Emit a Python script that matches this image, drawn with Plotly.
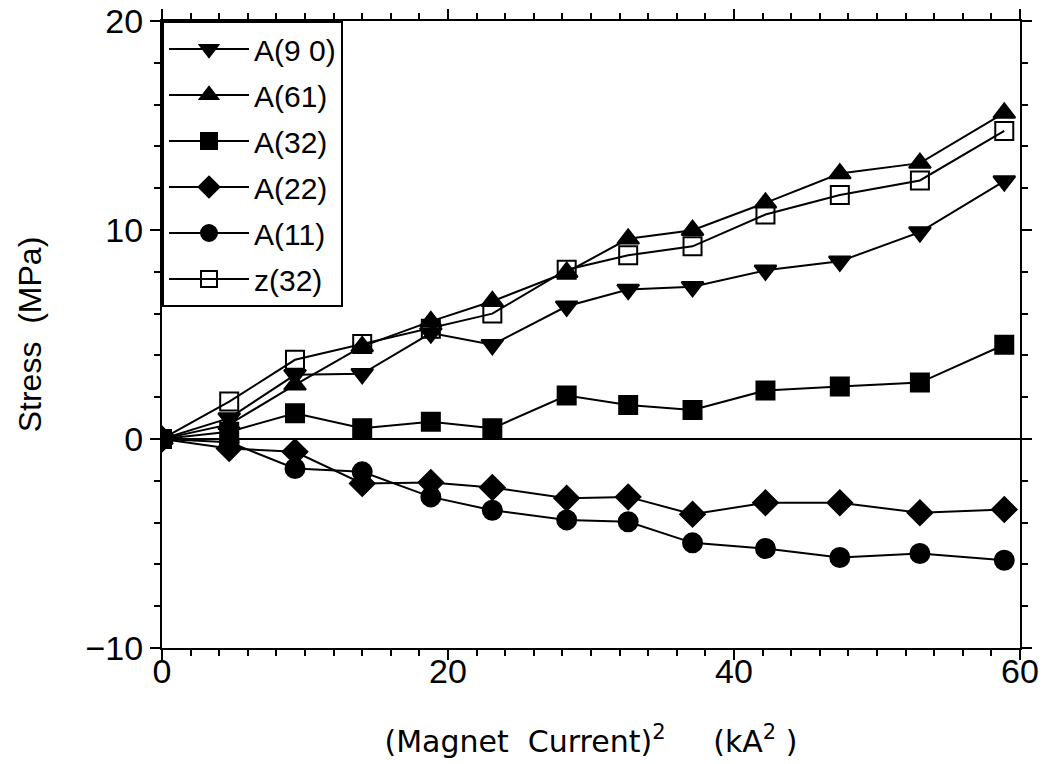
import plotly.graph_objects as go

current_sq = [0, 4.7, 9.3, 14.0, 18.8, 23.1, 28.3, 32.6, 37.1, 42.2, 47.4, 53.0, 58.9]

a90 = [0, 1.0, 3.07, 3.12, 5.07, 4.51, 6.35, 7.15, 7.28, 8.07, 8.5, 9.9, 12.34]
a61 = [0, 0.7, 2.59, 4.43, 5.63, 6.59, 7.98, 9.58, 9.99, 11.3, 12.7, 13.2, 15.6]
a32 = [0, 0.35, 1.23, 0.51, 0.83, 0.51, 2.08, 1.63, 1.39, 2.32, 2.51, 2.7, 4.51]
a22 = [0, -0.45, -0.61, -2.13, -2.08, -2.32, -2.83, -2.77, -3.6, -3.05, -3.05, -3.53, -3.37]
a11 = [0, -0.15, -1.41, -1.57, -2.77, -3.41, -3.87, -3.96, -4.97, -5.24, -5.67, -5.48, -5.8]
z32 = [0, 1.79, 3.79, 4.54, 5.28, 6.0, 8.1, 8.79, 9.22, 10.74, 11.67, 12.37, 14.74]

series = [
    ("A(9 0)", a90, "triangle-down", 19),
    ("A(61)", a61, "triangle-up", 19),
    ("A(32)", a32, "square", 18),
    ("A(22)", a22, "diamond", 19),
    ("A(11)", a11, "circle", 19),
    ("z(32)", z32, "square-open", 18),
]

fig = go.Figure()
for i, (name, ys, sym, sz) in enumerate(series):
    fig.add_trace(go.Scatter(
        x=current_sq, y=ys, name=name, mode="lines+markers",
        legendgroup=f"g{i}",
        line=dict(color="black", width=2),
        marker=dict(symbol=sym, size=sz,
                    color="black", line=dict(color="black", width=2)),
    ))

font_family = "Liberation Sans, Arial, sans-serif"
axis_common = dict(
    showline=True, linecolor="black", linewidth=2, mirror="ticks",
    ticks="outside", ticklen=10, tickwidth=2, tickcolor="black",
    showgrid=False, zeroline=False, automargin=False,
    ticklabeloverflow="allow",
    tickfont=dict(family=font_family, size=34, color="black"),
)

fig.update_xaxes(
    range=[0, 60], dtick=20, tick0=0, ticklabelstandoff=-18,
    minor=dict(dtick=2, ticks="outside", ticklen=6, tickwidth=1.5, tickcolor="black"),
    title=dict(text="(Magnet  Current)<sup>2</sup>     (kA<sup>2</sup> )", standoff=42,
               font=dict(family="DejaVu Sans, sans-serif", size=30, color="black")),
    **axis_common,
)
fig.update_yaxes(
    range=[-10, 20], dtick=10, tick0=0,
    minor=dict(dtick=2, ticks="outside", ticklen=6, tickwidth=1.5, tickcolor="black"),
    title=dict(text="Stress  (MPa)", standoff=34,
               font=dict(family=font_family, size=32, color="black")),
    **axis_common,
)

fig.add_hline(y=0, line=dict(color="black", width=2), layer="below")

fig.update_layout(
    width=1045, height=764,
    margin=dict(l=162, r=25, t=21, b=116),
    paper_bgcolor="white", plot_bgcolor="white",
    showlegend=True,
    legend=dict(
        x=0, y=1, xanchor="left", yanchor="top",
        bordercolor="black", borderwidth=2, bgcolor="white",
        font=dict(family=font_family, size=30, color="black"),
        tracegroupgap=4, itemwidth=80,
    ),
)

fig.write_html("out.html", config={"displayModeBar": False},
               post_script="document.body.style.margin='0px';document.body.style.overflow='hidden';")
